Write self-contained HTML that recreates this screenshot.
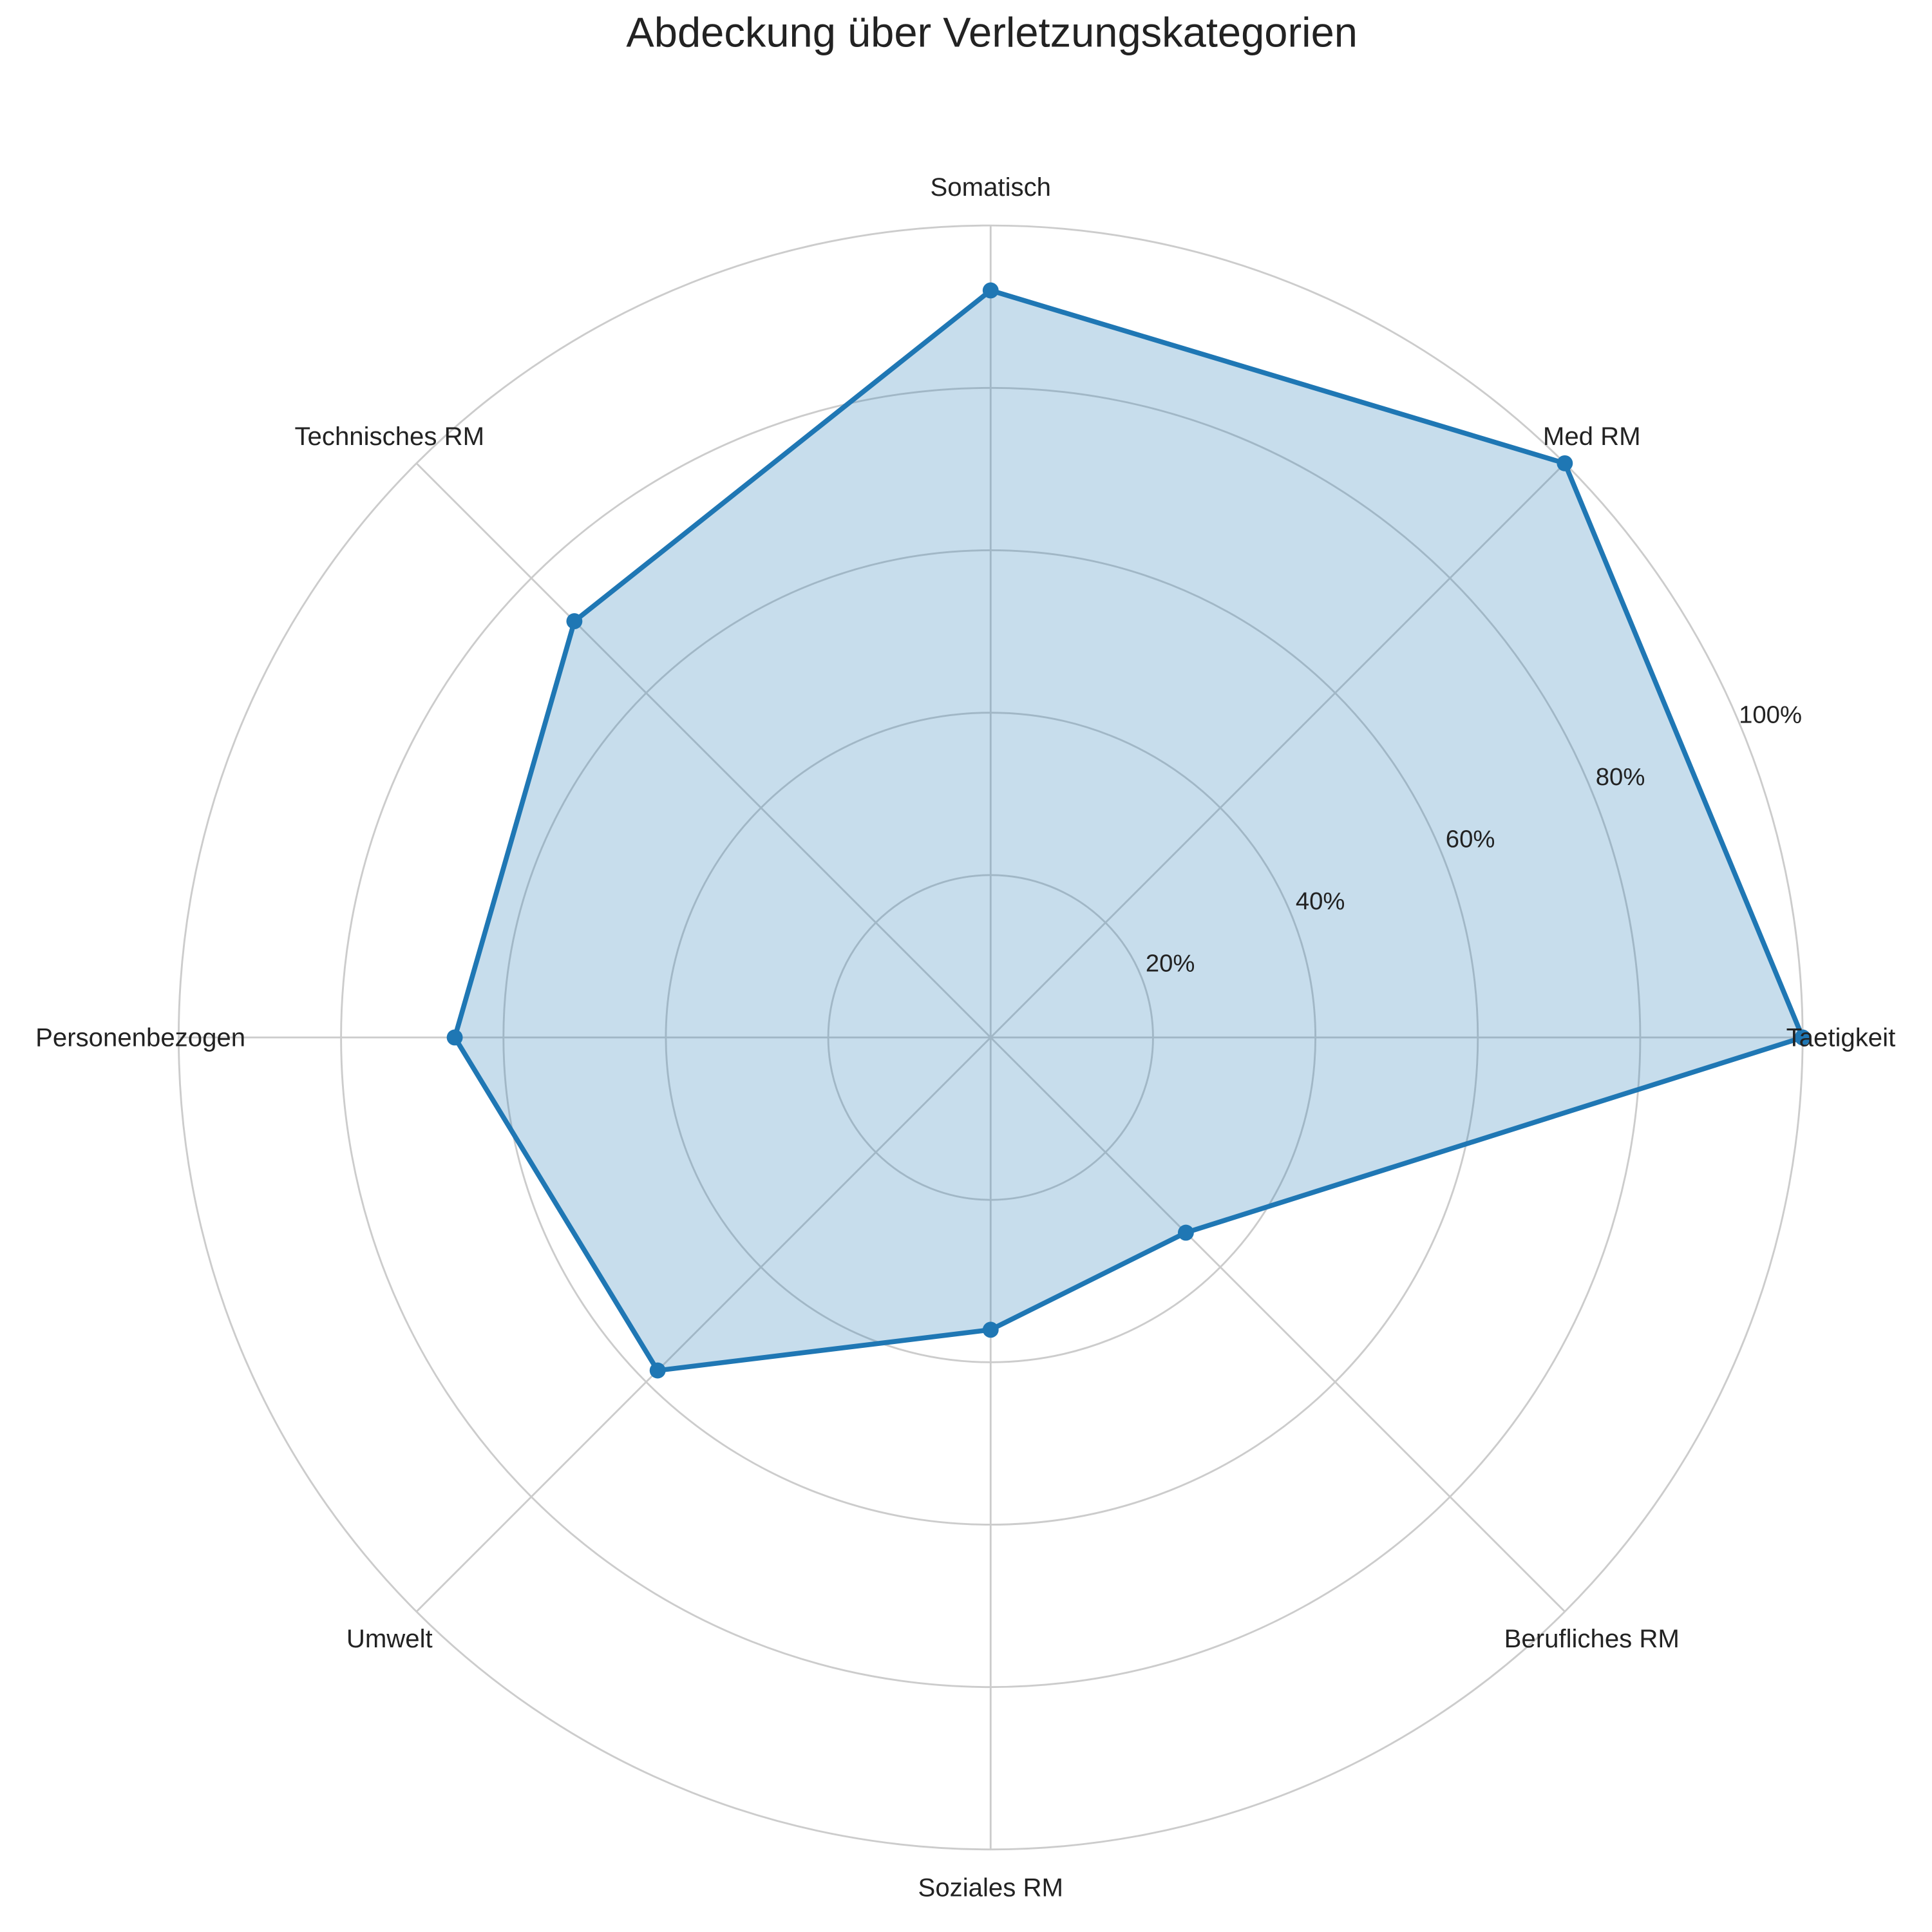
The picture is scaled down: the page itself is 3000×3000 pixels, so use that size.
<!DOCTYPE html>
<html><head><meta charset="utf-8"><style>
html,body{margin:0;padding:0;background:#fff;}
svg{display:block;}
text{font-family:"Liberation Sans",sans-serif;fill:#222;}
</style></head><body>
<svg id="chart" width="3000" height="3000" viewBox="0 0 1568 1568" xmlns="http://www.w3.org/2000/svg">
<text x="805" y="38" font-size="34" text-anchor="middle">Abdeckung über Verletzungskategorien</text>
<g id="grid"></g>
<g id="series"></g>
<g id="labels"></g>
</svg>
<script>
const categories = ["Taetigkeit","Med RM","Somatisch","Technisches RM","Personenbezogen","Umwelt","Soziales RM","Berufliches RM"];
const values = [1.00, 1.00, 0.92, 0.725, 0.66, 0.58, 0.36, 0.34];
const tickValues = [0.2, 0.4, 0.6, 0.8, 1.0];
const tickLabels = ["20%","40%","60%","80%","100%"];

const NS = "http://www.w3.org/2000/svg";
const cx = 804, cy = 842, R = 659, rMax = 1.0;
function rScale(v){ return v / rMax * R; }
function ang(i){ return i * 2 * Math.PI / categories.length; }
function pt(i, v){ const a = ang(i), r = rScale(v); return [cx + r*Math.cos(a), cy - r*Math.sin(a)]; }
function mk(tag, attrs, parent){ const e = document.createElementNS(NS, tag); for (const k in attrs) e.setAttribute(k, attrs[k]); parent.appendChild(e); return e; }

const grid = document.getElementById('grid');
tickValues.forEach((t, k) => {
  const c = mk('circle', {cx:cx, cy:cy, r:rScale(t), fill:'none', stroke:'#cccccc', 'stroke-width':1.5}, grid);
  
  
});
categories.forEach((c, i) => {
  const [x, y] = pt(i, rMax);
  const l = mk('line', {x1:cx, y1:cy, x2:x, y2:y, stroke:'#cccccc', 'stroke-width':1.5}, grid);
  
  
});

const series = document.getElementById('series');
const pts = values.map((v, i) => pt(i, v));
const d = pts.map(p => p[0].toFixed(1) + ',' + p[1].toFixed(1)).join(' ');
const poly = mk('polygon', {points:d, fill:'#1f77b4', 'fill-opacity':0.25, stroke:'#1f77b4', 'stroke-width':4, 'stroke-linejoin':'round'}, series);


pts.forEach((p, i) => {
  const m = mk('circle', {cx:p[0], cy:p[1], r:6.5, fill:'#1f77b4'}, series);
  
  
});

const labels = document.getElementById('labels');
categories.forEach((c, i) => {
  const a = ang(i);
  const lr = 690;
  const x = cx + lr*Math.cos(a), y = cy - lr*Math.sin(a);
  const t = mk('text', {x:x, y:y + 7, 'font-size':21, 'text-anchor':'middle'}, labels);
  t.textContent = c;
  
  
});
const ta = 22.5 * Math.PI / 180;
tickValues.forEach((v, k) => {
  const r = rScale(v);
  const t = mk('text', {x:cx + r*Math.cos(ta) + 24, y:cy - r*Math.sin(ta) - 3, 'font-size':20, 'text-anchor':'middle'}, labels);
  t.textContent = tickLabels[k];
  
  
});
</script>
</body></html>
